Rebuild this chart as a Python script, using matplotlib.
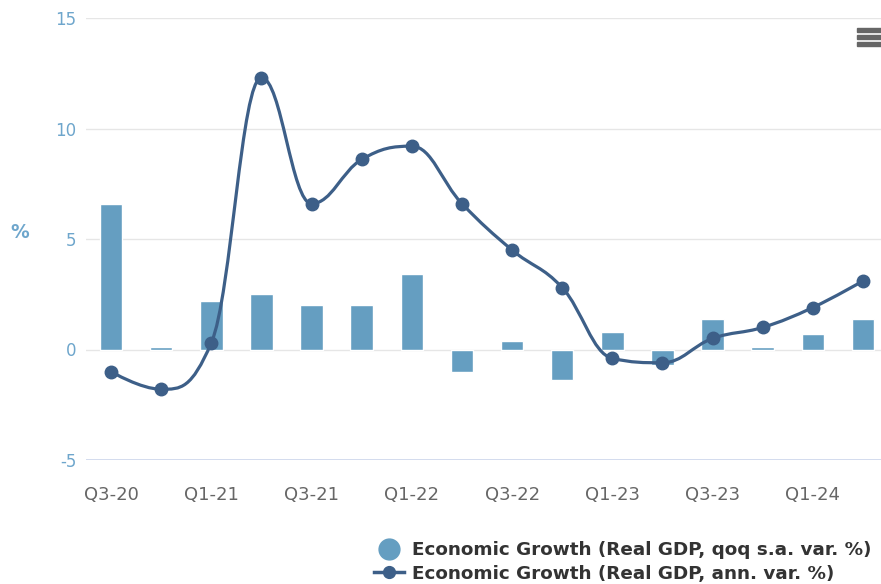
import matplotlib
matplotlib.use("Agg")
import matplotlib.pyplot as plt
from matplotlib.path import Path
from matplotlib.patches import PathPatch, Rectangle
from matplotlib.lines import Line2D

plt.rcParams['font.family'] = ['DejaVu Sans']

quarters = ["Q3-20", "Q4-20", "Q1-21", "Q2-21", "Q3-21", "Q4-21", "Q1-22", "Q2-22",
            "Q3-22", "Q4-22", "Q1-23", "Q2-23", "Q3-23", "Q4-23", "Q1-24", "Q2-24"]
qoq_growth = [6.6, 0.1, 2.2, 2.5, 2.0, 2.0, 3.4, -1.0, 0.4, -1.4, 0.8, -0.7, 1.4, 0.1, 0.7, 1.4]
annual_growth = [-1.0, -1.8, 0.3, 12.3, 6.6, 8.6, 9.2, 6.6, 4.5, 2.8, -0.4, -0.6, 0.5, 1.0, 1.9, 3.1]

bar_color = "#659ec1"
line_color = "#3d5f88"


def spline_path(xs, ys, smoothing=1.5):
    # same control point rule as the Highcharts spline series
    denom = smoothing + 1
    n = len(xs)
    left = [None] * n
    right = [None] * n
    for i in range(1, n - 1):
        px, py = xs[i], ys[i]
        lx, ly = xs[i - 1], ys[i - 1]
        nx, ny = xs[i + 1], ys[i + 1]
        lcx = (smoothing * px + lx) / denom
        lcy = (smoothing * py + ly) / denom
        rcx = (smoothing * px + nx) / denom
        rcy = (smoothing * py + ny) / denom
        corr = ((rcy - lcy) * (rcx - px)) / (rcx - lcx) + py - rcy
        lcy += corr
        rcy += corr
        if lcy > ly and lcy > py:
            lcy = max(ly, py)
            rcy = 2 * py - lcy
        elif lcy < ly and lcy < py:
            lcy = min(ly, py)
            rcy = 2 * py - lcy
        if rcy > ny and rcy > py:
            rcy = max(ny, py)
            lcy = 2 * py - rcy
        elif rcy < ny and rcy < py:
            rcy = min(ny, py)
            lcy = 2 * py - rcy
        left[i] = (lcx, lcy)
        right[i] = (rcx, rcy)
    verts = [(xs[0], ys[0])]
    codes = [Path.MOVETO]
    for i in range(1, n):
        c1 = right[i - 1] if right[i - 1] is not None else (xs[i - 1], ys[i - 1])
        c2 = left[i] if left[i] is not None else (xs[i], ys[i])
        verts += [c1, c2, (xs[i], ys[i])]
        codes += [Path.CURVE4] * 3
    return Path(verts, codes)


fig = plt.figure(figsize=(8.81, 5.84), dpi=100)
ax = fig.add_axes([86 / 881, 124 / 584, 795 / 881, 442 / 584])

x = list(range(len(quarters)))

for yv in [0, 5, 10, 15]:
    ax.axhline(yv, color="#e6e6e6", linewidth=1, zorder=0)
ax.axhline(-5, color="#ccd6eb", linewidth=1.2, zorder=0)

ax.bar(x, qoq_growth, width=0.45, color=bar_color, edgecolor="white", linewidth=1, zorder=2)

ax.add_patch(PathPatch(spline_path(x, annual_growth), facecolor="none",
                       edgecolor=line_color, linewidth=2.3, zorder=3))
ax.plot(x, annual_growth, linestyle="none", marker="o", markersize=9,
        color=line_color, zorder=4)

ax.set_xlim(-0.5, 15.36)
ax.set_ylim(-5, 15)
ax.set_yticks([-5, 0, 5, 10, 15])
ax.set_yticklabels(["-5", "0", "5", "10", "15"])
ax.set_xticks(x[::2])
ax.set_xticklabels(quarters[::2])
ax.tick_params(axis="y", length=0, pad=7, labelsize=12, labelcolor="#6ea6cc")
ax.tick_params(axis="x", length=0, pad=19, labelsize=13, labelcolor="#666666")
for s in ax.spines.values():
    s.set_visible(False)

fig.text(20 / 881, 1 - 232 / 584, "%", color="#6ea6cc", fontsize=13.5,
         fontweight="bold", ha="center", va="center")

# menu icon
for yy in [28, 35, 42]:
    fig.patches.append(Rectangle((857 / 881, 1 - (yy + 4) / 584), 24 / 881, 4 / 584,
                                 transform=fig.transFigure, color="#666666"))

handles = [
    Line2D([], [], linestyle="none", marker="o", markersize=15, color=bar_color),
    Line2D([], [], color=line_color, linewidth=2.5, marker="o", markersize=8.5),
]
labels = ["Economic Growth (Real GDP, qoq s.a. var. %)",
          "Economic Growth (Real GDP, ann. var. %)"]
leg = fig.legend(handles, labels, loc="lower right", bbox_to_anchor=(1.008, -0.026),
                 frameon=False, handlelength=1.6, handletextpad=0.45,
                 labelspacing=0.3, prop={"size": 13.2, "weight": "bold"})
for t in leg.get_texts():
    t.set_color("#333333")

fig.savefig("out.png", dpi=100)
